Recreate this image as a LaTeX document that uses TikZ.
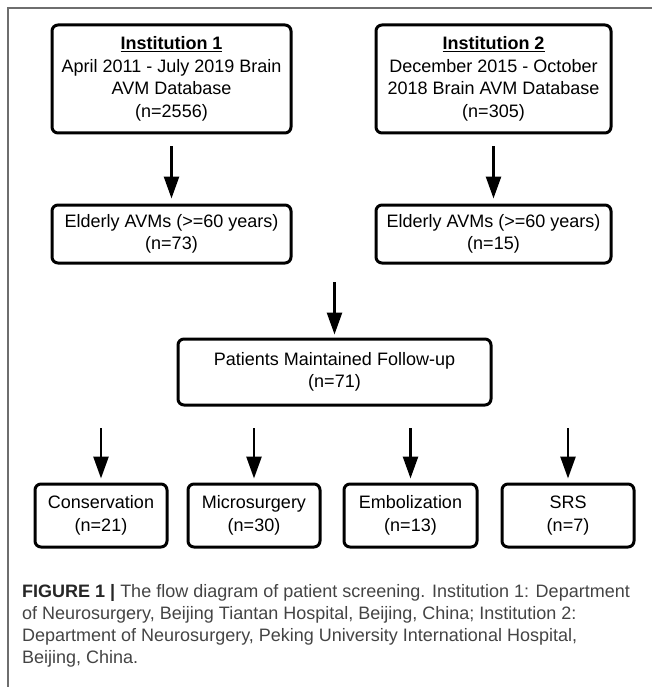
\documentclass[tikz,border=0pt]{standalone}
\usepackage{fontspec}
\setmainfont{Liberation Sans}
\usetikzlibrary{arrows.meta}
\definecolor{framegray}{HTML}{6E6E6E}
\definecolor{capgray}{HTML}{444444}
\tikzset{
  box/.style={draw=black, line width=3pt, rounded corners=6pt, align=center,
    inner sep=0pt, font=\fontsize{18}{22.5}\selectfont},
  arr/.style={line width=2.6pt, -{Triangle[length=22pt,width=15pt]}},
  capline/.style={anchor=base west, inner sep=0pt, text=capgray,
    font=\fontsize{18}{22}\selectfont},
}
\begin{document}
\begin{tikzpicture}[x=1pt,y=-1pt]
\useasboundingbox (0,0) rectangle (652,687);
% frame
\draw[framegray, line width=1.5pt] (8,687) -- (8,8) -- (652,8);
% top boxes
\node[box, minimum width=239pt, minimum height=108pt] (b1) at (171.5,79)
  {\textbf{\underline{Institution 1}}\\April 2011 - July 2019 Brain\\AVM Database\\(n=2556)};
\node[box, minimum width=235pt, minimum height=108pt] (b2) at (493.5,79)
  {\textbf{\underline{Institution 2}}\\December 2015 - October\\2018 Brain AVM Database\\(n=305)};
% elderly
\node[box, minimum width=239pt, minimum height=58pt] (e1) at (171.5,234)
  {Elderly AVMs (>=60 years)\\(n=73)};
\node[box, minimum width=235pt, minimum height=58pt] (e2) at (493.5,234)
  {Elderly AVMs (>=60 years)\\(n=15)};
% patients
\node[box, minimum width=313pt, minimum height=66pt] (p) at (334.5,372)
  {Patients Maintained Follow-up\\(n=71)};
% bottom
\node[box, minimum width=132pt, minimum height=63pt] (c1) at (101,515.5)
  {Conservation\\(n=21)};
\node[box, minimum width=132pt, minimum height=63pt] (c2) at (254,515.5)
  {Microsurgery\\(n=30)};
\node[box, minimum width=133pt, minimum height=63pt] (c3) at (410.5,515.5)
  {Embolization\\(n=13)};
\node[box, minimum width=132pt, minimum height=63pt] (c4) at (568,515.5)
  {SRS\\(n=7)};
% arrows
\draw[arr, shorten <=12pt, shorten >=5pt] (b1.south) -- (e1.north);
\draw[arr, shorten <=12pt, shorten >=5pt] (b2.south) -- (e2.north);
\coordinate (m) at (334.5,282);
\draw[arr, shorten >=3pt] (m) -- (p.north);
\coordinate (s1) at (101,428);
\coordinate (s2) at (254,428);
\coordinate (s3) at (410.5,428);
\coordinate (s4) at (568,428);
\draw[arr, shorten >=4pt] (s1) -- (c1.north);
\draw[arr, shorten >=4pt] (s2) -- (c2.north);
\draw[arr, shorten >=4pt] (s3) -- (c3.north);
\draw[arr, shorten >=4pt] (s4) -- (c4.north);
% caption
\node[capline] (cap1) at (22,597)
  {{\color{black!85}\textbf{FIGURE 1 |}} The flow diagram of patient screening. Institution 1: Department};
\node[capline] (cap2) at (22,619)
  {of Neurosurgery, Beijing Tiantan Hospital, Beijing, China; Institution 2:};
\node[capline] (cap3) at (22,641)
  {Department of Neurosurgery, Peking University International Hospital,};
\node[capline] (cap4) at (22,663)
  {Beijing, China.};
\end{tikzpicture}
\end{document}
